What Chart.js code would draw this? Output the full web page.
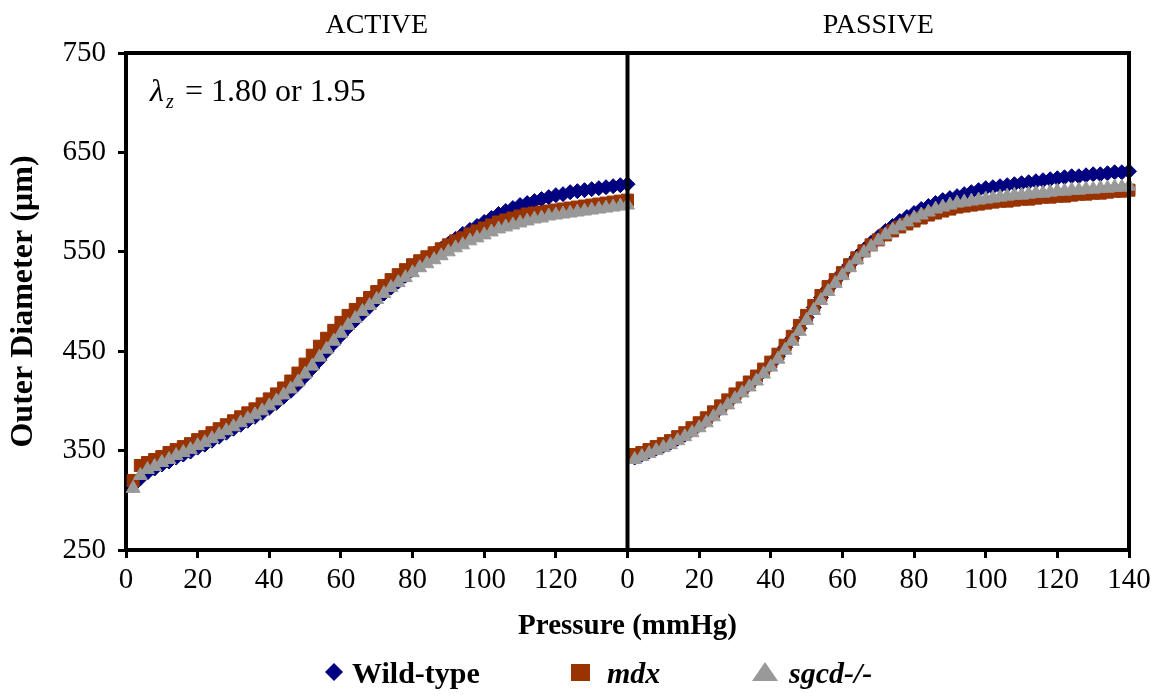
<!DOCTYPE html>
<html><head><meta charset="utf-8">
<script src="https://cdn.jsdelivr.net/npm/chart.js@4.4.1/dist/chart.umd.min.js"></script>
<style>html,body{margin:0;padding:0;background:#fff;}</style>
</head><body>
<canvas id="c" width="1159" height="698"></canvas>
<script>
// Pressure (mmHg) for every measured point, same for both panels
const pressure = [2,4,6,8,10,12,14,16,18,20,22,24,26,28,30,32,34,36,38,40,42,44,46,48,50,52,54,56,58,60,62,64,66,68,70,72,74,76,78,80,82,84,86,88,90,92,94,96,98,100,102,104,106,108,110,112,114,116,118,120,122,124,126,128,130,132,134,136,138,140];

// ACTIVE panel – outer diameter (µm)
const wtActive = [315,322,328,332,336,339,343,346,349,353,356,360,364,368,372,376,380,384,388,393,398,404,410,417,425,433,441,450,458,466,474,481,488,495,502,508,514,520,526,532,538,543,548,553,558,563,568,572,576,580,584,588,591,594,597,599,601,603,605,607,608,610,611,612,613,614,615,616,617,618];
const mdxActive = [320,335,338,341,344,348,351,354,357,361,364,368,372,376,380,384,388,392,397,402,407,413,420,428,437,446,455,463,471,479,486,492,498,504,510,516,522,527,532,537,541,545,549,553,557,561,564,568,571,574,577,580,582,584,586,588,589,590,591,592,593,594,595,596,597,598,599,600,601,602];
const sgcdActive = [312,325,331,334,338,341,345,348,351,355,358,362,366,370,374,378,382,386,390,395,400,406,412,419,427,435,444,452,460,468,476,483,490,496,502,508,514,519,524,529,534,538,542,546,550,554,557,561,564,567,570,573,575,577,579,581,583,584,586,587,588,589,590,591,592,593,594,595,596,597];

// PASSIVE panel – outer diameter (µm)
const wtPassive = [343,346,349,352,355,358,362,366,371,376,381,387,393,399,405,411,417,423,430,437,445,454,463,473,484,494,504,513,521,529,537,545,552,559,565,571,576,581,585,589,593,596,599,602,604,606,608,610,612,614,615,616,617,618,619,620,621,622,623,624,625,626,626,627,628,628,629,630,630,631];
const mdxPassive = [346,348,351,354,357,360,364,368,373,378,383,389,395,401,407,413,419,425,432,439,447,456,465,476,486,496,506,515,522,529,537,544,551,557,562,567,571,575,578,581,584,587,589,591,593,595,596,597,598,599,600,601,601,602,603,603,604,605,605,606,606,607,608,608,609,609,610,611,611,612];
const sgcdPassive = [341,344,347,350,353,356,360,364,368,373,378,384,390,396,402,408,414,420,427,434,442,451,460,470,481,491,501,510,518,526,534,542,549,555,561,567,572,576,580,584,587,590,593,595,597,599,600,601,602,603,604,605,606,607,607,608,609,609,610,611,611,612,612,613,613,614,614,615,615,616];

// Labels / ticks
const panelTitles = ["ACTIVE", "PASSIVE"];
const seriesNames = ["Wild-type", "mdx", "sgcd-/-"];
const yTicks = [250, 350, 450, 550, 650, 750];
const panelSpan = 140;

const COL_WT = '#000080', COL_MDX = '#993300', COL_SG = '#999999';
const SERIF = "'Liberation Serif', 'Times New Roman', serif";
const LW = 4;

function pts(vals, offset) { return vals.map((v, i) => ({ x: pressure[i] + offset, y: v })); }

function ds(label, vals, offset, color, style, radius, order) {
  return { label, data: pts(vals, offset), showLine: false, pointStyle: style,
    pointRadius: radius, pointHoverRadius: radius, backgroundColor: color,
    borderColor: color, pointBorderWidth: 1, order, clip: false };
}

const datasets = [
  ds(seriesNames[0], wtActive, 0, COL_WT, 'rectRot', 7.5, 3),
  ds(seriesNames[1], mdxActive, 0, COL_MDX, 'rect', 8.5, 2),
  ds(seriesNames[2], sgcdActive, 0, COL_SG, 'triangle', 8, 1),
  ds(seriesNames[0], wtPassive, panelSpan, COL_WT, 'rectRot', 7.5, 3),
  ds(seriesNames[1], mdxPassive, panelSpan, COL_MDX, 'rect', 8.5, 2),
  ds(seriesNames[2], sgcdPassive, panelSpan, COL_SG, 'triangle', 8, 1)
];

const decor = {
  id: 'decor',
  afterDatasetsDraw(chart) {
    const { ctx, chartArea: a, scales: { x } } = chart;
    const xm = x.getPixelForValue(panelSpan);
    ctx.save();
    ctx.strokeStyle = '#000'; ctx.lineWidth = LW;
    ctx.beginPath();
    ctx.moveTo(a.left - LW / 2, a.top); ctx.lineTo(a.right, a.top); ctx.lineTo(a.right, a.bottom + LW / 2);
    ctx.moveTo(xm, a.top); ctx.lineTo(xm, a.bottom);
    ctx.stroke();
    ctx.restore();
  },
  afterDraw(chart) {
    const { ctx, chartArea: a, scales: { x } } = chart;
    const xm = x.getPixelForValue(panelSpan);
    ctx.save();
    ctx.fillStyle = '#000';
    // panel titles
    ctx.font = `28px ${SERIF}`;
    ctx.textAlign = 'center'; ctx.textBaseline = 'middle';
    ctx.fillText(panelTitles[0], (a.left + xm) / 2, 26);
    ctx.fillText(panelTitles[1], (xm + a.right) / 2, 26);
    // annotation lambda_z
    ctx.textAlign = 'left'; ctx.textBaseline = 'alphabetic';
    ctx.font = `italic 32px ${SERIF}`;
    ctx.fillText('λ', 150, 101);
    ctx.font = `italic 20px ${SERIF}`;
    ctx.fillText('z', 166, 108);
    ctx.font = `32px ${SERIF}`;
    ctx.fillText('= 1.80 or 1.95', 185, 101);
    // legend
    const ly = 672;
    ctx.fillStyle = COL_WT;
    ctx.beginPath();
    ctx.moveTo(334, ly - 9); ctx.lineTo(343, ly); ctx.lineTo(334, ly + 9); ctx.lineTo(325, ly); ctx.closePath();
    ctx.fill();
    ctx.fillStyle = COL_MDX;
    ctx.fillRect(571, ly - 8, 19, 17);
    ctx.fillStyle = COL_SG;
    ctx.beginPath();
    ctx.moveTo(765, ly - 10); ctx.lineTo(778, ly + 9); ctx.lineTo(752, ly + 9); ctx.closePath();
    ctx.fill();
    ctx.fillStyle = '#000';
    ctx.font = `bold 30px ${SERIF}`;
    ctx.fillText(seriesNames[0], 352, 683);
    ctx.font = `italic bold 30px ${SERIF}`;
    ctx.fillText(seriesNames[1], 607, 683);
    ctx.fillText(seriesNames[2], 789, 683);
    ctx.restore();
  }
};

new Chart(document.getElementById('c'), {
  type: 'scatter',
  data: { datasets },
  options: {
    responsive: false, animation: false,
    layout: { padding: { top: 53, right: 30, bottom: 50, left: 0 } },
    plugins: { legend: { display: false }, tooltip: { enabled: false } },
    scales: {
      x: {
        type: 'linear', min: 0, max: 2 * panelSpan,
        afterFit(s) { s.height = 98; s.paddingLeft = 0; s.paddingRight = 0; },
        ticks: { stepSize: 20, autoSkip: false, maxRotation: 0, padding: 5, color: '#000',
          font: { family: SERIF, size: 29 },
          callback: v => (v < panelSpan ? v : v - panelSpan) },
        grid: { drawOnChartArea: false, drawTicks: true, tickLength: 8, tickWidth: 3, tickColor: '#000' },
        border: { display: true, color: '#000', width: LW },
        title: { display: true, text: 'Pressure (mmHg)', color: '#000',
          font: { family: SERIF, size: 29, weight: 'bold' }, padding: { top: 0, bottom: 4 } }
      },
      y: {
        min: 250, max: 750,
        afterFit(s) { s.width = 126; s.paddingTop = 0; s.paddingBottom = 0; },
        afterBuildTicks(s) { s.ticks = yTicks.map(v => ({ value: v })); },
        ticks: { padding: 12, color: '#000', font: { family: SERIF, size: 29 } },
        grid: { drawOnChartArea: false, drawTicks: true, tickLength: 8, tickWidth: 3, tickColor: '#000' },
        border: { display: true, color: '#000', width: LW },
        title: { display: true, text: 'Outer Diameter (µm)', color: '#000',
          font: { family: SERIF, size: 32, weight: 'bold' }, padding: { top: 5, bottom: 0 } }
      }
    }
  },
  plugins: [decor]
});
</script>
</body></html>
